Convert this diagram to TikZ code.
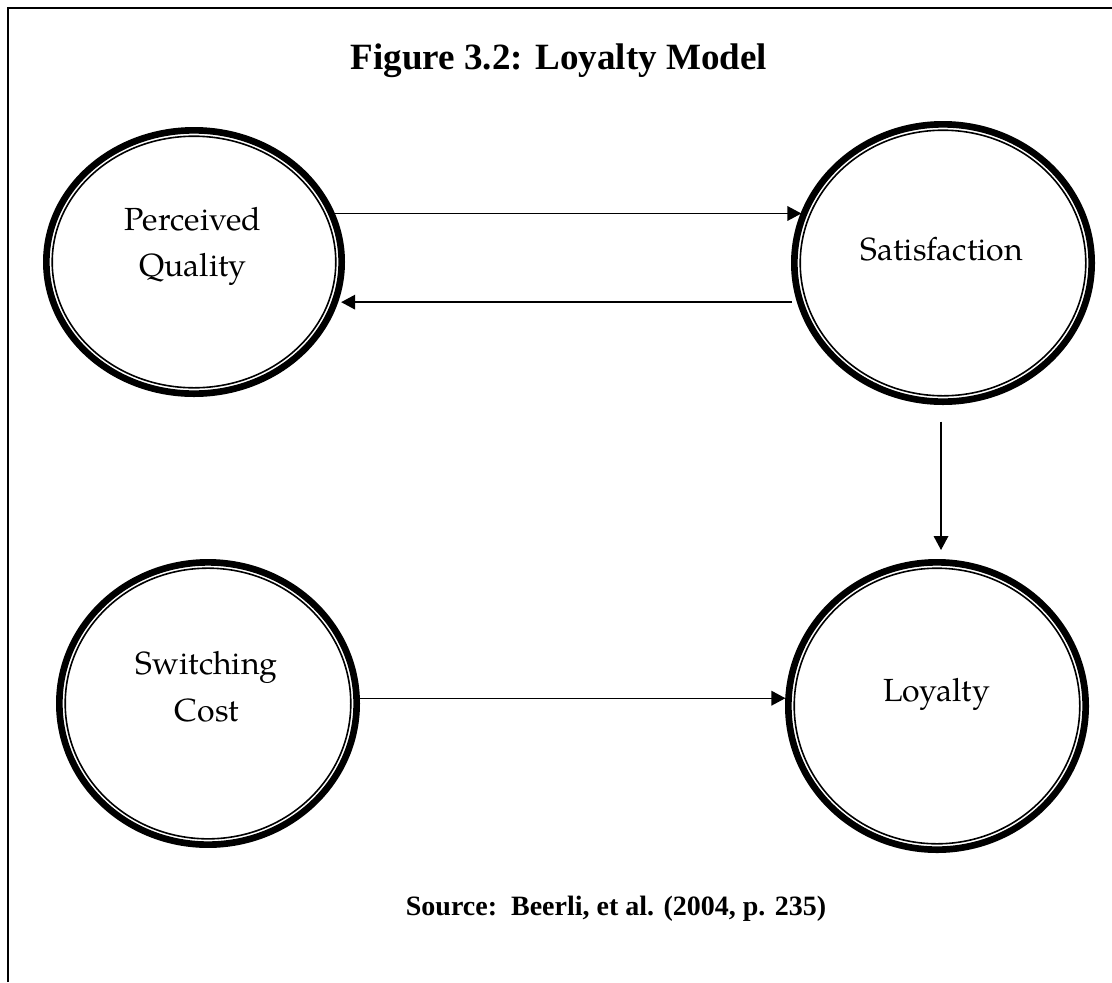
\documentclass[tikz,border=0pt]{standalone}
\usepackage{fontspec}
\usetikzlibrary{shapes.geometric,arrows.meta}
\setmainfont{Liberation Serif}
\newfontfamily\palfont{texgyrepagella-regular.otf}

\tikzset{
  ring/.style={ellipse, draw, line width=5pt, inner sep=0pt},
  inring/.style={line width=1.2pt},
  label/.style={font=\palfont\fontsize{24}{35}\selectfont, align=center, inner sep=0pt},
  arr/.style={line width=1pt, -{Triangle[length=10.5pt,width=11pt]}},
  frame/.style={line width=1.5pt}
}

% outer ring node plus its thin inner outline
\newcommand\ringnode[7]{%
  \node[ring, minimum width=#4, minimum height=#5] (#1) at (#2,#3) {};
  \draw[inring] (#1.center) ellipse [x radius=#6, y radius=#7];
}

\begin{document}
\begin{tikzpicture}[x=0.75pt,y=-0.75pt]
\useasboundingbox (0,0) rectangle (1112,982);

% frame edges
\coordinate (fc) at (8,8);
\coordinate (fr) at (1112,8);
\coordinate (fb) at (8,982);
\draw[frame] (fb) -- (fc) -- (fr);

% title and source
\node[anchor=base, font=\bfseries\fontsize{27.8}{33}\selectfont, inner sep=0pt] (title) at (559,69.3) {Figure 3.2: Loyalty Model};
\node[anchor=base, font=\bfseries\fontsize{21}{25}\selectfont, inner sep=0pt] (source) at (616,915) {Source:\ \ Beerli, et al. (2004, p. 235)};

% constructs
\ringnode{pq}{194}{262}{221.5pt}{197.5pt}{106.35pt}{94.35pt}
\ringnode{sat}{943}{263}{223pt}{208pt}{107.1pt}{99.6pt}
\ringnode{sc}{208}{703.5}{223pt}{211.7pt}{107.1pt}{101.5pt}
\ringnode{loy}{937}{706}{223pt}{215.5pt}{107.1pt}{103.35pt}

\node[label] (pqt) at (193,246.5) {Perceived\\Quality};
\node[label] (satt) at (941.7,249) {Satisfaction};
\node[label] (sct) at (206.7,687) {Switching\\Cost};
\node[label] (loyt) at (936.7,694) {Loyalty};

% relationships
\draw[arr] (pq.19.2) -- (pq.19.2 -| sat.160.64);
\draw[arr, shorten <=3.75pt, shorten >=3.2pt] (sat.195.86) -- (sat.195.86 -| pq.343.57);
\draw[arr, shorten <=12.5pt, shorten >=6.75pt] ([xshift=-1.5pt]sat.south) -- ([xshift=-1.5pt]sat.south |- loy.north);
\draw[arr] (sc.2.07) -- (sc.2.07 -| loy.176.98);
\end{tikzpicture}
\end{document}
